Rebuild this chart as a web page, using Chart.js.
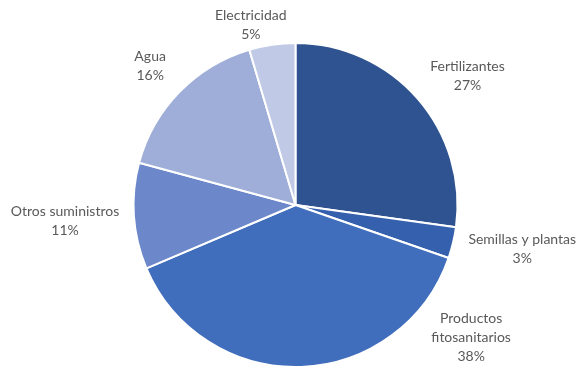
<!DOCTYPE html>
<html>
<head>
<meta charset="utf-8">
<script src="https://cdn.jsdelivr.net/npm/chart.js@4"></script>
<style>
  html, body { margin: 0; padding: 0; background: #fff; overflow: hidden; }
  #wrap { position: relative; width: 579px; height: 368px; }
</style>
</head>
<body>
<div id="wrap"><canvas id="myChart"></canvas></div>
<script>
// chart data
var categories = ["Fertilizantes", "Semillas y plantas", "Productos fitosanitarios", "Otros suministros", "Agua", "Electricidad"];
var shares = [27.2, 3.1, 38.3, 10.6, 16.2, 4.6];
var sliceColors = ['#2f5290', '#3460ad', '#406ebd', '#6c88cb', '#9eaed8', '#c0cae6'];

// label text lines (Excel wraps the long one)
var labelLines = [["Fertilizantes"], ["Semillas y plantas"], ["Productos", "fitosanitarios"], ["Otros suministros"], ["Agua"], ["Electricidad"]];
// label placement: [angle shift in degrees, distance from centre in px]
var labelPlace = [[4.2, 215], [-2.5, 231], [-51, 220], [0, 231], [-0.6, 201], [-5.7, 185]];

var outsideLabels = {
  id: 'outsideLabels',
  afterDatasetsDraw: function(chart) {
    var ctx = chart.ctx;
    var meta = chart.getDatasetMeta(0);
    var total = shares.reduce(function(a, b) { return a + b; }, 0);
    ctx.save();
    ctx.font = '14px Lato, "Open Sans", sans-serif';
    ctx.fillStyle = '#595959';
    ctx.textAlign = 'center';
    ctx.textBaseline = 'middle';
    meta.data.forEach(function(arc, i) {
      var mid = (arc.startAngle + arc.endAngle) / 2 + labelPlace[i][0] * Math.PI / 180;
      var d = labelPlace[i][1];
      var x = arc.x + Math.cos(mid) * d;
      var y = arc.y + Math.sin(mid) * d;
      var lines = labelLines[i].concat([Math.round(shares[i] / total * 100) + '%']);
      var lh = 19;
      var top = y - (lines.length - 1) * lh / 2;
      lines.forEach(function(t, j) {
        ctx.fillText(t, x, top + j * lh);
      });
    });
    ctx.restore();
  }
};

var ctx = document.getElementById('myChart').getContext('2d');
var chart = new Chart(ctx, {
  type: 'pie',
  data: {
    labels: categories,
    datasets: [{
      data: shares,
      backgroundColor: sliceColors,
      borderColor: '#ffffff',
      borderWidth: 2
    }]
  },
  options: {
    responsive: true,
    maintainAspectRatio: false,
    animation: false,
    layout: { padding: { top: 42, bottom: 0, left: 12, right: 0 } },
    plugins: {
      legend: { display: false },
      tooltip: { enabled: false }
    }
  },
  plugins: [outsideLabels]
});
</script>
</body>
</html>
